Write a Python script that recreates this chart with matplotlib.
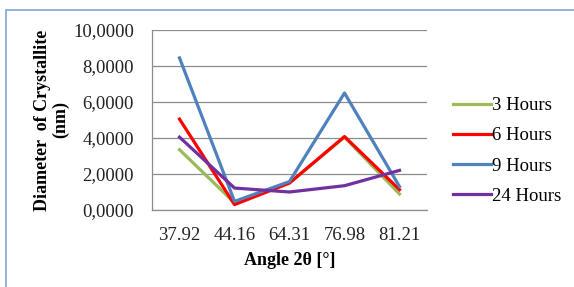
import matplotlib.pyplot as plt
from matplotlib.patches import Rectangle
from matplotlib.ticker import FuncFormatter

angles = ["37.92", "44.16", "64.31", "76.98", "81.21"]
hours_3 = [3.35, 0.40, 1.50, 4.05, 0.89]
hours_6 = [5.05, 0.30, 1.50, 4.08, 1.13]
hours_9 = [8.45, 0.48, 1.58, 6.50, 1.30]
hours_24 = [4.05, 1.22, 1.00, 1.35, 2.20]

series = [
    ("3 Hours", hours_3, "#9BBB59"),
    ("6 Hours", hours_6, "#FF0000"),
    ("9 Hours", hours_9, "#4F81BD"),
    ("24 Hours", hours_24, "#7030A0"),
]

plt.rcParams['font.family'] = ['Liberation Serif', 'DejaVu Serif']

W, H = 574, 287
fig = plt.figure(figsize=(W / 100, H / 100), dpi=100)

# outer chart border
fig.patches.append(Rectangle((6 / W, -0.1), 1.2, 1 - 10 / H + 0.1,
                             transform=fig.transFigure, fill=False,
                             edgecolor="#7EA6D8", linewidth=1.2))

ax = fig.add_axes([152 / W, 1 - 210 / H, 275 / W, 180 / H])
x = range(len(angles))
for name, vals, color in series:
    ax.plot(x, vals, color=color, linewidth=2.3, label=name)

ax.set_xlim(-0.5, len(angles) - 0.5)
ax.set_ylim(0, 10)
ax.set_yticks([0, 2, 4, 6, 8, 10])
ax.yaxis.set_major_formatter(FuncFormatter(lambda v, p: f"{v:.4f}".replace(".", ",")))
ax.set_xticks(list(x))
ax.set_xticklabels(angles)
ax.tick_params(length=0, labelsize=13.5, colors="#222222")
ax.tick_params(axis="x", pad=12)
ax.tick_params(axis="y", pad=13)
ax.grid(axis="y", color="#8C8C8C", linewidth=0.9)
ax.set_axisbelow(True)
for s in ["top", "right"]:
    ax.spines[s].set_visible(False)
for s in ["left", "bottom"]:
    ax.spines[s].set_color("#8C8C8C")
    ax.spines[s].set_linewidth(0.9)

ax.set_xlabel("Angle 2θ [°]", fontsize=13, fontweight="bold", labelpad=6)
ax.set_ylabel("Diameter  of Crystallite\n(nm)", fontsize=13, fontweight="bold",
              labelpad=3, linespacing=1.05)

ax.legend(loc="center left", bbox_to_anchor=(453 / W, 1 - 151 / H),
          bbox_transform=fig.transFigure, frameon=False, fontsize=13.5,
          borderpad=0, borderaxespad=0,
          handlelength=2.0, handletextpad=0.1, labelspacing=0.7)

fig.savefig("out.png", dpi=100)
